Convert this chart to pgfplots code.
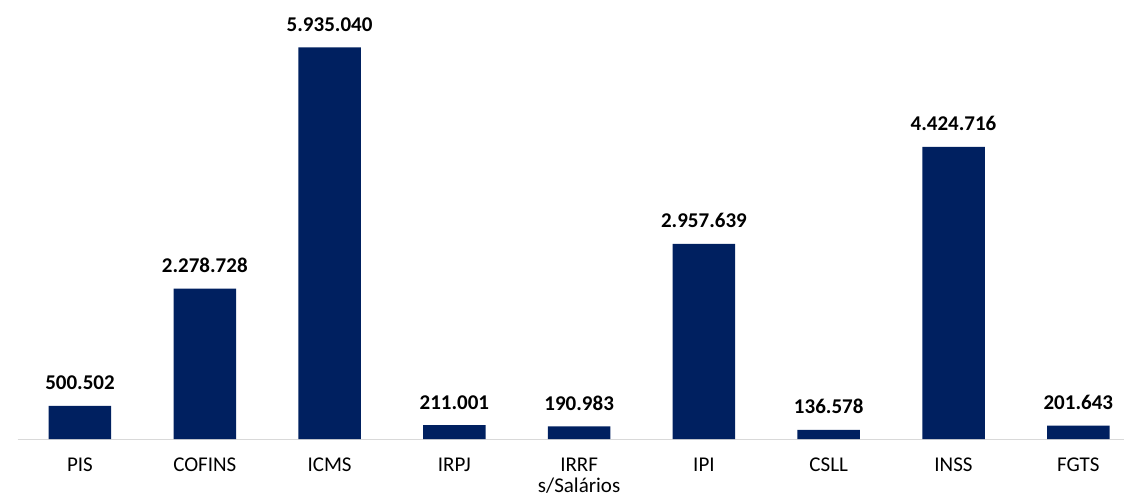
\documentclass[border=0pt]{standalone}
\usepackage{fontspec}
\setmainfont{Carlito}
\usepackage{pgfplots}
\pgfplotsset{compat=1.18}
\usepackage{pgfplotstable}
\definecolor{navy}{HTML}{002060}
\definecolor{axisgray}{HTML}{D9D9D9}

\pgfplotstableread[col sep=comma]{
x,y,lab
0,500502,500.502
1,2278728,2.278.728
2,5935040,5.935.040
3,211001,211.001
4,190983,190.983
5,2957639,2.957.639
6,136578,136.578
7,4424716,4.424.716
8,201643,201.643
}\datatable

\begin{document}
\begin{tikzpicture}
\useasboundingbox (0,0) rectangle (1124pt,501pt);
\begin{axis}[
  at={(17.6pt,62pt)}, anchor=south west,
  scale only axis, width=1106.4pt, height=439pt,
  xmin=-0.5, xmax=8.366, ymin=0, ymax=6.652e6,
  axis x line=bottom, axis y line=none,
  x axis line style={draw=axisgray, line width=1pt, -},
  xtick={0,...,8}, major tick length=0pt,
  xticklabels={PIS,COFINS,ICMS,IRPJ,{IRRF\\s/Salários},IPI,CSLL,INSS,FGTS},
  xticklabel style={font=\fontsize{21}{21}\selectfont, align=center, anchor=north, inner sep=0pt, yshift=-19pt, text=black},
  ytick=\empty,
  clip=false,
  ybar, bar width=62.5pt,
  point meta=explicit symbolic,
  nodes near coords,
  every node near coord/.append style={font=\fontsize{21}{25}\selectfont\bfseries, anchor=base, yshift=16pt, inner sep=0pt, text=black},
]
\addplot[fill=navy, draw=none] table[x=x, y=y, meta=lab] {\datatable};
\end{axis}
\end{tikzpicture}
\end{document}
